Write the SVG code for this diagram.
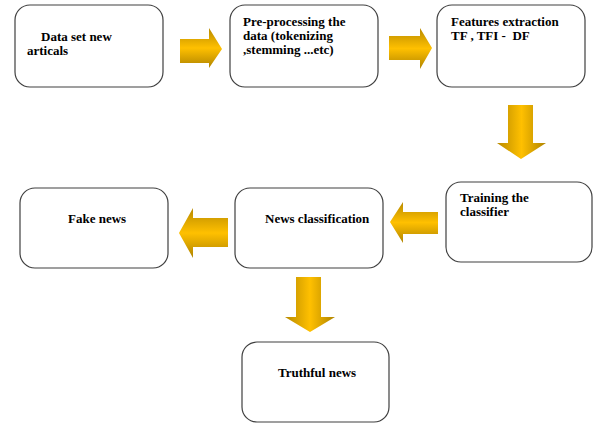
<svg xmlns="http://www.w3.org/2000/svg" width="593" height="423" viewBox="0 0 593 423">
<defs>
<style>
.box{fill:#fff;stroke:#404040;stroke-width:1.2}
.t{font-family:"Liberation Serif","Times New Roman",serif;font-weight:bold;font-size:13px;fill:#000}
.ah{fill:url(#gh)}
.av{fill:url(#gv)}
</style>
<linearGradient id="gh" x1="0" y1="0" x2="0" y2="1">
<stop offset="0" stop-color="#b88a00"/>
<stop offset="0.5" stop-color="#ffc000"/>
<stop offset="1" stop-color="#b08400"/>
</linearGradient>
<linearGradient id="gv" x1="0" y1="0" x2="1" y2="0">
<stop offset="0" stop-color="#b88a00"/>
<stop offset="0.5" stop-color="#ffc000"/>
<stop offset="1" stop-color="#b08400"/>
</linearGradient>
</defs>
<g id="connectors">
<polygon class="ah" points="180,39 209,39 209,28 222,49 209,68 209,63 180,63"/>
<polygon class="ah" points="389,36 420,36 420,28 432,48 420,69 420,60 389,60"/>
<polygon class="av" points="508,105 533,105 533,143 546,143 521,159 497,143 508,143"/>
<polygon class="ah" points="438,212 403,212 403,202 390,222 403,243 403,234 438,234"/>
<polygon class="ah" points="228,218 193,218 193,208 179,233 193,258 193,247 228,247"/>
<polygon class="av" points="296,277 321,277 321,317 335,317 310,332 285,317 296,317"/>
</g>
<g id="n1"><rect class="box" x="15" y="5" width="148" height="82" rx="15"/><text class="t" x="41" y="41">Data set new</text><text class="t" x="27" y="55">articals</text></g>
<g id="n2"><rect class="box" x="230" y="5" width="148" height="82" rx="15"/><text class="t" x="243" y="26">Pre-processing the</text><text class="t" x="243" y="40">data (tokenizing</text><text class="t" x="243" y="54">,stemming ...etc)</text></g>
<g id="n3"><rect class="box" x="437" y="5" width="148" height="82" rx="15"/><text class="t" x="451" y="26">Features extraction</text><text class="t" x="451" y="40" xml:space="preserve">TF , TFI -  DF</text></g>
<g id="n4"><rect class="box" x="446" y="182" width="146" height="80" rx="15"/><text class="t" x="460" y="202">Training the</text><text class="t" x="460" y="216">classifier</text></g>
<g id="n5"><rect class="box" x="235" y="188" width="148" height="80" rx="15"/><text class="t" x="265" y="223">News classification</text></g>
<g id="n6"><rect class="box" x="20" y="188" width="148" height="80" rx="15"/><text class="t" x="68" y="223">Fake news</text></g>
<g id="n7"><rect class="box" x="242" y="342" width="147" height="80" rx="15"/><text class="t" x="278" y="377">Truthful news</text></g>
</svg>
